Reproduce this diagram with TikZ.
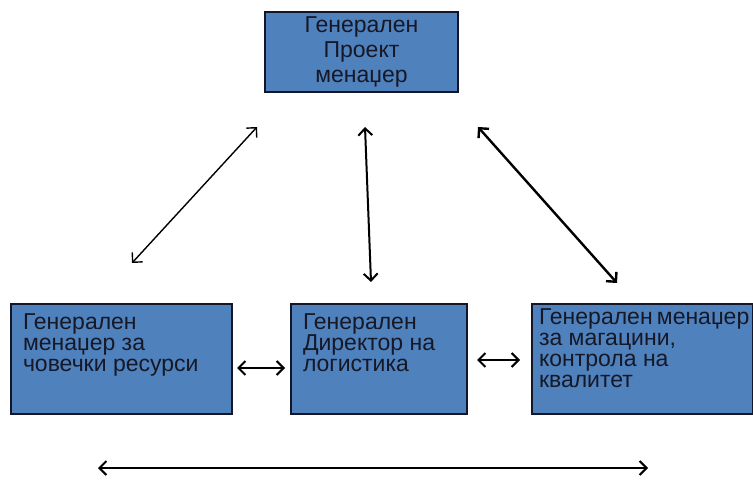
\documentclass[tikz,border=0pt]{standalone}
\usepackage{fontspec}
\setmainfont{Liberation Sans}
\usetikzlibrary{arrows.meta}
\definecolor{boxblue}{RGB}{79,129,189}
\definecolor{boxline}{RGB}{18,22,40}
\definecolor{inktext}{RGB}{22,24,38}
\tikzset{>={Straight Barb[length=3.5pt,width=7pt]}}
\tikzset{
  unit/.style={draw=boxline,line width=1pt,fill=boxblue,anchor=north west,
    inner xsep=6pt,inner ysep=5pt,text=inktext,
    font=\fontsize{11.5}{10.5}\selectfont},
  link/.style={<->,line width=1pt,black}
}

\begin{document}
\begin{tikzpicture}[x=0.5pt,y=-0.5pt]
    \useasboundingbox (0,0) rectangle (753,480);
    % boxes
    \node[unit,inner sep=0pt] (gpm) at (264,11)
      {\parbox[c][40pt][c]{96.5pt}{\centering\fontsize{11.5}{12.5}\selectfont
       Генерален\\Проект\\менаџер}};
    \node[unit] (hr) at (10,303)
      {\parbox[c][45pt][t]{98.5pt}{\raggedright Генерален\\менаџер за\\човечки ресурси}};
    \node[unit] (log) at (290,303)
      {\parbox[c][45pt][t]{76pt}{\raggedright Генерален\\Директор на\\логистика}};
    \node[unit,inner xsep=3.5pt,inner ysep=2.2pt] (wh) at (531,303)
      {\parbox[c][50.6pt][t]{103.5pt}{\raggedright
       Генерален~менаџер\\за магацини,\\контрола на\\квалитет}};
    % arrow ends
    \coordinate (hrA) at (132,263);  \coordinate (hrB) at (257,127);
    \coordinate (logA) at (371,282); \coordinate (logB) at (365,127);
    \coordinate (whA) at (617,283);  \coordinate (whB) at (478,127);
    \coordinate (hlA) at (237,368);  \coordinate (hlB) at (285,368);
    \coordinate (lwA) at (477,360);  \coordinate (lwB) at (520,360);
    \coordinate (allA) at (98,468);  \coordinate (allB) at (648,468);
    % links
    \draw[link,line width=0.7pt] (hrA) -- (hrB);
    \draw[link] (logA) -- (logB);
    \draw[link,line width=1.2pt] (whA) -- (whB);
    \draw[link] (hlA) -- (hlB);
    \draw[link] (lwA) -- (lwB);
    \draw[link] (allA) -- (allB);
\end{tikzpicture}
\end{document}
